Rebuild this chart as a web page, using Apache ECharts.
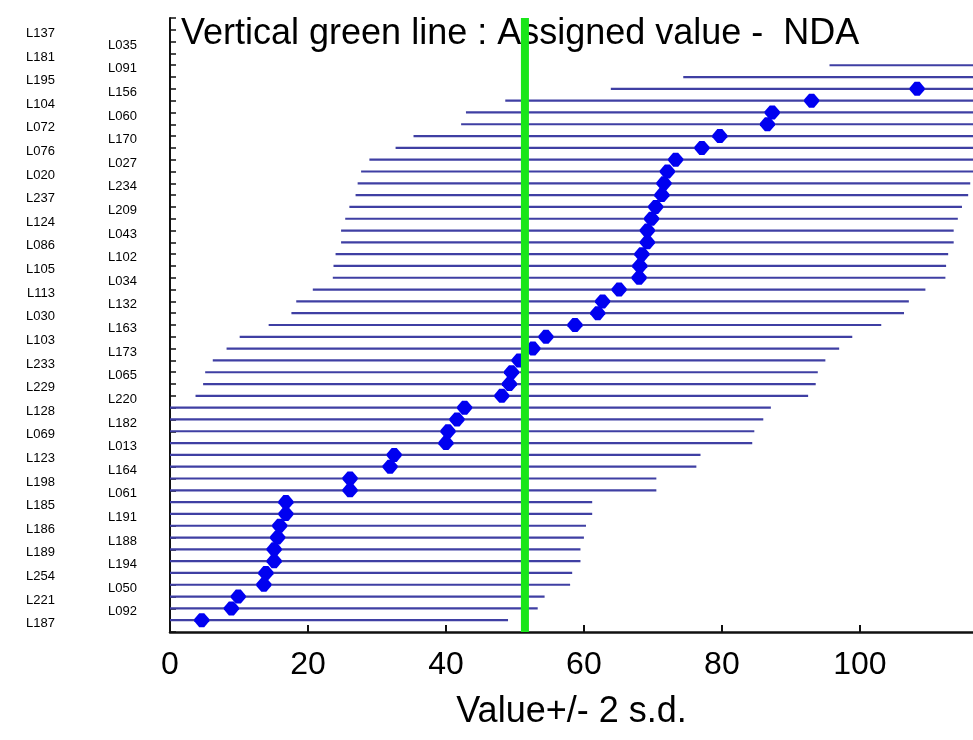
<!DOCTYPE html>
<html><head><meta charset="utf-8">
<script src="https://cdn.jsdelivr.net/npm/echarts@6/dist/echarts.min.js"></script>
<style>html,body{margin:0;padding:0;background:#fff}#c{width:973px;height:740px}</style>
</head><body><div id="c"></div>
<script>
// Rows from top to bottom
const rowLabels = ['L137','L035','L181','L091','L195','L156','L104','L060','L072','L170',
  'L076','L027','L020','L234','L237','L209','L124','L043','L086','L102',
  'L105','L034','L113','L132','L030','L163','L103','L173','L233','L065',
  'L229','L220','L128','L182','L069','L013','L123','L164','L198','L061',
  'L185','L191','L186','L188','L189','L194','L254','L050','L221','L092','L187'];
// Reported values (dots), same order
const values = [200, 175, 165, 140.0, 118.8, 108.3, 93.0, 87.3, 86.6, 79.7,
  77.1, 73.3, 72.1, 71.6, 71.3, 70.4, 69.8, 69.2, 69.2, 68.4,
  68.1, 68.0, 65.1, 62.7, 62.0, 58.7, 54.5, 52.6, 50.6, 49.5,
  49.2, 48.1, 42.7, 41.6, 40.3, 40.0, 32.5, 31.9, 26.1, 26.1,
  16.8, 16.8, 15.9, 15.6, 15.1, 15.1, 13.9, 13.6, 9.9, 8.9, 4.6];
const twoSD = 44.4;          // 2 s.d. half-width of each bar
const assignedValue = 51.45; // vertical green line
const xTicks = [0, 20, 40, 60, 80, 100];
const titleText = 'Vertical green line : Assigned value -  NDA';
const xName = 'Value+/- 2 s.d.';

const n = rowLabels.length;
const rowPos = rowLabels.map((_, i) => n - i); // top row = n
const font = "'Liberation Sans', Arial, sans-serif";

const chart = echarts.init(document.getElementById('c'), null, {renderer: 'canvas'});
chart.setOption({
  backgroundColor: '#ffffff',
  animation: false,
  title: {
    text: titleText, left: 176, top: 11, z: 5,
    textStyle: {fontFamily: font, fontSize: 36, fontWeight: 'normal', color: '#000'}
  },
  grid: {left: 170, right: 0, top: 18, bottom: 108},
  xAxis: {
    type: 'value', min: 0, max: 116.4, interval: 20,
    name: xName, nameLocation: 'middle', nameGap: 62,
    nameTextStyle: {fontFamily: font, fontSize: 36, color: '#000'},
    axisLine: {show: true, lineStyle: {color: '#111', width: 2.5}},
    axisTick: {show: true, inside: true, length: 7, lineStyle: {color: '#111', width: 2}},
    axisLabel: {
      margin: 17, fontFamily: font, fontSize: 32, color: '#000', showMaxLabel: false,
      formatter: v => (xTicks.indexOf(v) >= 0 ? String(v) : '')
    },
    splitLine: {show: false}
  },
  yAxis: {
    type: 'value', min: 0, max: n + 1, interval: 1,
    axisLine: {show: true, lineStyle: {color: '#111', width: 2}},
    axisTick: {show: true, inside: true, length: 6, lineStyle: {color: '#111', width: 1.5}},
    splitLine: {show: false},
    axisLabel: {
      margin: 33, showMinLabel: true, showMaxLabel: true,
      formatter: v => {
        const i = n - v;
        if (i < 0 || i >= n) return '';
        return (i % 2 === 0 ? '{l|' : '{r|') + rowLabels[i] + '}';
      },
      rich: {
        l: {fontFamily: font, fontSize: 13, color: '#000', padding: [7, 82, 0, 0]},
        r: {fontFamily: font, fontSize: 13, color: '#000', padding: [7, 0, 0, 0]}
      }
    }
  },
  series: [
    {
      type: 'custom', clip: true, z: 2,
      encode: {x: [0, 1], y: 2},
      data: values.map((v, i) => [v - twoSD, v + twoSD, rowPos[i]]),
      renderItem: (params, api) => {
        const y = api.value(2);
        const p1 = api.coord([api.value(0), y]);
        const p2 = api.coord([api.value(1), y]);
        return {type: 'line', shape: {x1: p1[0], y1: p1[1], x2: p2[0], y2: p2[1]},
          style: {stroke: '#3f3fa3', lineWidth: 2.2}};
      }
    },
    {
      type: 'scatter', clip: true, z: 3,
      symbol: 'path://M4,0 L8,0 L12,5 L12,7 L8,12 L4,12 L0,7 L0,5 Z',
      symbolSize: [15, 14],
      itemStyle: {color: '#0000f0', opacity: 1},
      data: values.map((v, i) => [v, rowPos[i]])
    },
    {
      type: 'line', z: 10, symbol: 'none', silent: true,
      lineStyle: {color: '#19e619', width: 8},
      data: [[assignedValue, 0], [assignedValue, n + 1]]
    }
  ]
});
</script>
</body></html>
